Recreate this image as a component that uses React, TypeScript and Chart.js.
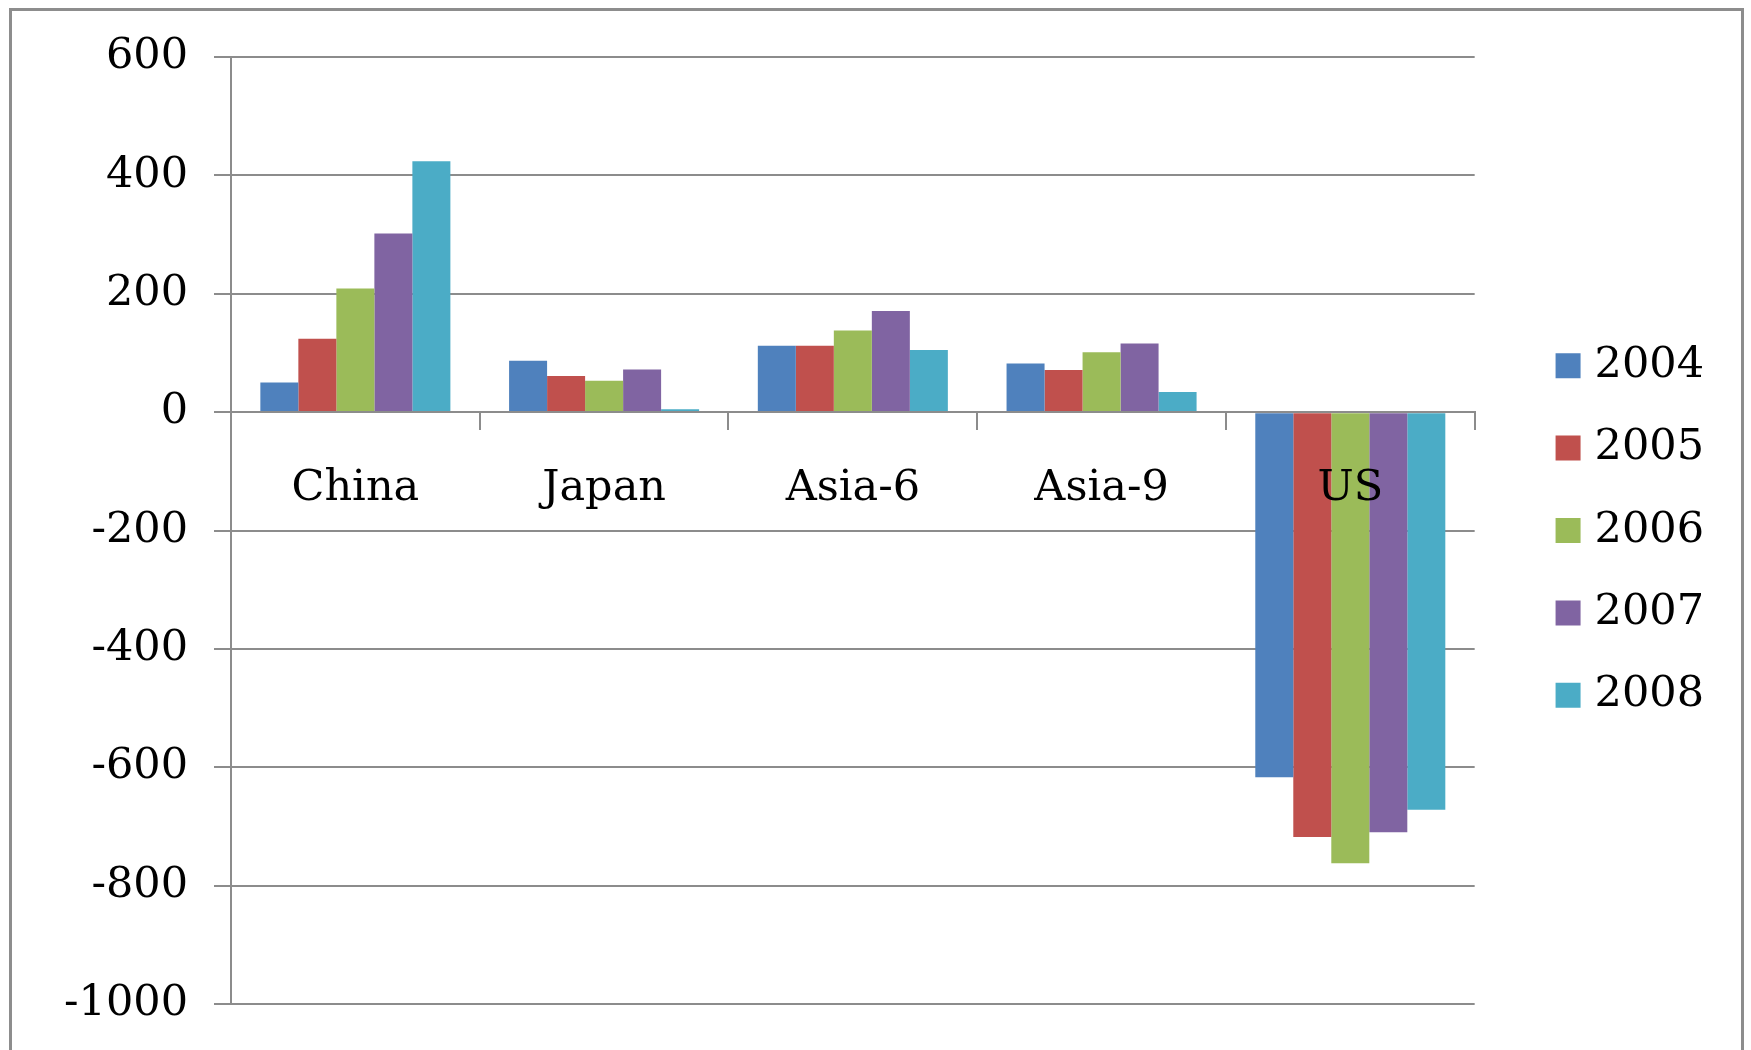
import { useEffect, useRef } from "react";
import { Chart, registerables } from "chart.js";

Chart.register(...registerables);

// Categories along the x axis and the yearly series plotted for each
const categories = ["China", "Japan", "Asia-6", "Asia-9", "US"];
const years = ["2004", "2005", "2006", "2007", "2008"];
const values2004 = [50, 87, 112, 82, -617];
const values2005 = [124, 61, 112, 71, -718];
const values2006 = [209, 53, 138, 101, -762];
const values2007 = [302, 72, 171, 116, -710];
const values2008 = [424, 5, 105, 34, -672];
const seriesValues = [values2004, values2005, values2006, values2007, values2008];
const seriesColors = ["#4F81BD", "#C0504D", "#9BBB59", "#8064A2", "#4BACC6"];

// Value axis range
const yMin = -1000;
const yMax = 600;
const yStep = 200;

const FONT_FAMILY = "'DejaVu Serif', 'Liberation Serif', serif";
const GRID = "#8c8c8c";

export default function App() {
  const canvasRef = useRef<HTMLCanvasElement | null>(null);

  useEffect(() => {
    const canvas = canvasRef.current;
    if (!canvas) return;
    const font = { family: FONT_FAMILY, size: 43 };

    const chart = new Chart(canvas, {
      type: "bar",
      data: {
        labels: categories,
        datasets: years.map((year, i) => ({
          label: year,
          data: seriesValues[i],
          backgroundColor: seriesColors[i],
          borderWidth: 0,
          barPercentage: 1,
          categoryPercentage: 0.764,
        })),
      },
      options: {
        responsive: false,
        animation: false,
        devicePixelRatio: 1,
        layout: { padding: { left: 0, top: 57, right: 37, bottom: 46 } },
        scales: {
          x: {
            position: { y: 0 },
            grid: {
              display: true,
              drawOnChartArea: false,
              drawTicks: true,
              tickLength: 17,
              color: GRID,
              lineWidth: 2,
              offset: true,
            },
            border: { display: true, color: GRID, width: 2, z: 1 },
            ticks: { color: "#000", font, padding: 34, maxRotation: 0, autoSkip: false, z: 1 },
          },
          y: {
            min: yMin,
            max: yMax,
            ticks: {
              stepSize: yStep,
              color: "#000",
              font,
              padding: 26,
              callback: (v: any) => String(v),
            },
            grid: { color: GRID, lineWidth: 2, tickLength: 17, drawTicks: true },
            border: { display: true, color: GRID, width: 2 },
            afterFit: (s: any) => {
              s.width = 231;
              s.paddingTop = 0;
              s.paddingBottom = 0;
            },
          },
          // spacer between the plot and the legend
          gap: {
            type: "linear",
            position: "right",
            display: true,
            grid: { display: false, drawTicks: false },
            border: { display: false },
            ticks: { display: false },
            afterFit: (s: any) => {
              s.width = 49;
              s.paddingTop = 0;
              s.paddingBottom = 0;
            },
          },
        },
        plugins: {
          tooltip: { enabled: false },
          legend: {
            position: "right",
            align: "center",
            labels: {
              usePointStyle: true,
              pointStyle: "rect",
              boxWidth: 10,
              boxHeight: 25,
              padding: 39.4,
              color: "#000",
              font,
            },
          },
        },
      } as any,
    });

    return () => chart.destroy();
  }, []);

  return (
    <div
      style={{
        position: "fixed",
        left: 0,
        top: 0,
        width: 1751,
        height: 1050,
        overflow: "hidden",
        background: "#fff",
      }}
    >
      <div
        style={{
          position: "absolute",
          left: 9,
          top: 8,
          width: 1729,
          height: 1090,
          border: "3px solid #8d8d8d",
        }}
      />
      <canvas
        ref={canvasRef}
        width={1751}
        height={1050}
        style={{ position: "absolute", left: 0, top: 0, display: "block" }}
      />
    </div>
  );
}
